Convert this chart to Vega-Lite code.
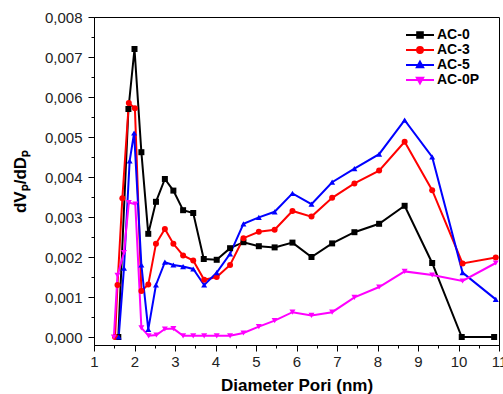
{
  "$schema": "https://vega.github.io/schema/vega-lite/v6.json",
  "width": 405,
  "height": 328,
  "autosize": {"type": "none"},
  "padding": {"left": 94, "top": 17, "right": 4, "bottom": 49},
  "background": "white",
  "config": {
    "view": {"stroke": "black", "strokeWidth": 1},
    "font": "Liberation Sans",
    "axis": {"domainColor": "black", "tickColor": "black", "grid": false, "labelFont": "Liberation Sans", "labelFontSize": 15, "labelColor": "#222222", "titleFont": "Liberation Sans", "titleFontSize": 17, "titleFontWeight": "bold", "titleColor": "black"}
  },
  "data": {
    "values": [
      {"s": "AC-0", "x": 1.6, "y": 0},
      {"s": "AC-0", "x": 1.85, "y": 0.0057},
      {"s": "AC-0", "x": 2.0, "y": 0.0072},
      {"s": "AC-0", "x": 2.17, "y": 0.00462},
      {"s": "AC-0", "x": 2.34, "y": 0.00258},
      {"s": "AC-0", "x": 2.53, "y": 0.00338},
      {"s": "AC-0", "x": 2.75, "y": 0.00395},
      {"s": "AC-0", "x": 2.96, "y": 0.00366},
      {"s": "AC-0", "x": 3.2, "y": 0.00317},
      {"s": "AC-0", "x": 3.45, "y": 0.0031},
      {"s": "AC-0", "x": 3.71, "y": 0.00195},
      {"s": "AC-0", "x": 4.03, "y": 0.00193},
      {"s": "AC-0", "x": 4.36, "y": 0.00222},
      {"s": "AC-0", "x": 4.69, "y": 0.00237},
      {"s": "AC-0", "x": 5.07, "y": 0.00227},
      {"s": "AC-0", "x": 5.46, "y": 0.00224},
      {"s": "AC-0", "x": 5.9, "y": 0.00236},
      {"s": "AC-0", "x": 6.37, "y": 0.002},
      {"s": "AC-0", "x": 6.88, "y": 0.00234},
      {"s": "AC-0", "x": 7.43, "y": 0.00262},
      {"s": "AC-0", "x": 8.04, "y": 0.00283},
      {"s": "AC-0", "x": 8.67, "y": 0.00328},
      {"s": "AC-0", "x": 9.35, "y": 0.00185},
      {"s": "AC-0", "x": 10.08, "y": 0},
      {"s": "AC-0", "x": 10.88, "y": 0},
      {"s": "AC-3", "x": 1.52, "y": 0},
      {"s": "AC-3", "x": 1.58, "y": 0.0013},
      {"s": "AC-3", "x": 1.7, "y": 0.00347},
      {"s": "AC-3", "x": 1.86, "y": 0.00585},
      {"s": "AC-3", "x": 2.01, "y": 0.00572},
      {"s": "AC-3", "x": 2.17, "y": 0.00115},
      {"s": "AC-3", "x": 2.34, "y": 0.00131},
      {"s": "AC-3", "x": 2.53, "y": 0.00233},
      {"s": "AC-3", "x": 2.75, "y": 0.0027},
      {"s": "AC-3", "x": 2.96, "y": 0.00233},
      {"s": "AC-3", "x": 3.2, "y": 0.00204},
      {"s": "AC-3", "x": 3.45, "y": 0.00191},
      {"s": "AC-3", "x": 3.72, "y": 0.00143},
      {"s": "AC-3", "x": 4.03, "y": 0.0015},
      {"s": "AC-3", "x": 4.36, "y": 0.0018},
      {"s": "AC-3", "x": 4.69, "y": 0.00247},
      {"s": "AC-3", "x": 5.07, "y": 0.00263},
      {"s": "AC-3", "x": 5.46, "y": 0.00268},
      {"s": "AC-3", "x": 5.9, "y": 0.00315},
      {"s": "AC-3", "x": 6.37, "y": 0.00301},
      {"s": "AC-3", "x": 6.88, "y": 0.00348},
      {"s": "AC-3", "x": 7.43, "y": 0.00384},
      {"s": "AC-3", "x": 8.04, "y": 0.00416},
      {"s": "AC-3", "x": 8.67, "y": 0.00488},
      {"s": "AC-3", "x": 9.35, "y": 0.00367},
      {"s": "AC-3", "x": 10.1, "y": 0.00184},
      {"s": "AC-3", "x": 10.92, "y": 0.00199},
      {"s": "AC-5", "x": 1.61, "y": 0},
      {"s": "AC-5", "x": 1.74, "y": 0.00172},
      {"s": "AC-5", "x": 1.88, "y": 0.0044},
      {"s": "AC-5", "x": 1.99, "y": 0.0051},
      {"s": "AC-5", "x": 2.17, "y": 0.0018},
      {"s": "AC-5", "x": 2.34, "y": 0.00019},
      {"s": "AC-5", "x": 2.53, "y": 0.0013},
      {"s": "AC-5", "x": 2.75, "y": 0.00187},
      {"s": "AC-5", "x": 2.96, "y": 0.0018},
      {"s": "AC-5", "x": 3.2, "y": 0.00176},
      {"s": "AC-5", "x": 3.45, "y": 0.0017},
      {"s": "AC-5", "x": 3.72, "y": 0.0013},
      {"s": "AC-5", "x": 4.03, "y": 0.00161},
      {"s": "AC-5", "x": 4.36, "y": 0.00208},
      {"s": "AC-5", "x": 4.69, "y": 0.00283},
      {"s": "AC-5", "x": 5.07, "y": 0.00299},
      {"s": "AC-5", "x": 5.46, "y": 0.00313},
      {"s": "AC-5", "x": 5.9, "y": 0.00359},
      {"s": "AC-5", "x": 6.37, "y": 0.00332},
      {"s": "AC-5", "x": 6.88, "y": 0.00387},
      {"s": "AC-5", "x": 7.43, "y": 0.00421},
      {"s": "AC-5", "x": 8.04, "y": 0.00457},
      {"s": "AC-5", "x": 8.67, "y": 0.00542},
      {"s": "AC-5", "x": 9.35, "y": 0.0045},
      {"s": "AC-5", "x": 10.1, "y": 0.00161},
      {"s": "AC-5", "x": 10.92, "y": 0.00094},
      {"s": "AC-0P", "x": 1.49, "y": 0},
      {"s": "AC-0P", "x": 1.58, "y": 0.00154},
      {"s": "AC-0P", "x": 1.74, "y": 0.00211},
      {"s": "AC-0P", "x": 1.86, "y": 0.00336},
      {"s": "AC-0P", "x": 2.02, "y": 0.00332},
      {"s": "AC-0P", "x": 2.17, "y": 0.00023},
      {"s": "AC-0P", "x": 2.35, "y": 0.00003},
      {"s": "AC-0P", "x": 2.54, "y": 0.00005},
      {"s": "AC-0P", "x": 2.75, "y": 0.0002},
      {"s": "AC-0P", "x": 2.96, "y": 0.00021},
      {"s": "AC-0P", "x": 3.2, "y": 0.00003},
      {"s": "AC-0P", "x": 3.45, "y": 0.00003},
      {"s": "AC-0P", "x": 3.72, "y": 0.00003},
      {"s": "AC-0P", "x": 4.03, "y": 0.00003},
      {"s": "AC-0P", "x": 4.36, "y": 0.00003},
      {"s": "AC-0P", "x": 4.69, "y": 0.0001},
      {"s": "AC-0P", "x": 5.07, "y": 0.00026},
      {"s": "AC-0P", "x": 5.46, "y": 0.00041},
      {"s": "AC-0P", "x": 5.9, "y": 0.00062},
      {"s": "AC-0P", "x": 6.37, "y": 0.00054},
      {"s": "AC-0P", "x": 6.88, "y": 0.00062},
      {"s": "AC-0P", "x": 7.43, "y": 0.00099},
      {"s": "AC-0P", "x": 8.04, "y": 0.00125},
      {"s": "AC-0P", "x": 8.67, "y": 0.00164},
      {"s": "AC-0P", "x": 9.35, "y": 0.00155},
      {"s": "AC-0P", "x": 10.1, "y": 0.0014},
      {"s": "AC-0P", "x": 10.92, "y": 0.00185}
    ]
  },
  "encoding": {
    "x": {
      "field": "x", "type": "quantitative",
      "scale": {"domain": [1, 11], "nice": false, "zero": false},
      "axis": {
        "title": "Diameter Pori (nm)",
        "values": [1, 1.5, 2, 2.5, 3, 3.5, 4, 4.5, 5, 5.5, 6, 6.5, 7, 7.5, 8, 8.5, 9, 9.5, 10, 10.5, 11],
        "labelExpr": "datum.value % 1 == 0 ? format(datum.value, 'd') : ''",
        "tickSize": {"condition": {"test": "datum.value % 1 != 0", "value": 3}, "value": 6},
        "labelFlush": false, "labelOverlap": false, "labelPadding": 3, "titlePadding": 8
      }
    },
    "y": {
      "field": "y", "type": "quantitative",
      "scale": {"domain": [-0.0002, 0.008], "nice": false, "zero": false},
      "axis": {
        "title": "dVₚ/dDₚ",
        "values": [0, 0.0005, 0.001, 0.0015, 0.002, 0.0025, 0.003, 0.0035, 0.004, 0.0045, 0.005, 0.0055, 0.006, 0.0065, 0.007, 0.0075, 0.008],
        "labelExpr": "round(datum.value * 10000) % 10 == 0 ? replace(format(datum.value, '.3f'), '.', ',') : ''",
        "tickSize": {"condition": {"test": "round(datum.value * 10000) % 10 != 0", "value": 3}, "value": 6},
        "labelFlush": false, "labelOverlap": false, "labelPadding": 6, "titlePadding": 15
      }
    }
  },
  "resolve": {"legend": {"color": "independent", "shape": "independent"}},
  "layer": [
    {
      "mark": {"type": "line", "strokeWidth": 2},
      "encoding": {
        "order": {"field": "x", "type": "quantitative"},
        "color": {
          "field": "s", "type": "nominal",
          "scale": {"domain": ["AC-0", "AC-3", "AC-5", "AC-0P"], "range": ["#000000", "#ff0000", "#0000ff", "#ff00ff"]},
          "legend": {
            "orient": "none", "legendX": 318, "legendY": 10, "title": null,
            "padding": 0, "rowPadding": 0, "symbolSize": 196, "symbolStrokeWidth": 2,
            "labelOffset": 9, "labelFontSize": 14, "labelFontWeight": "bold", "labelColor": "black", "labelFont": "Liberation Sans",
            "encode": {
              "symbols": {
                "update": {
                  "shape": {"signal": "datum.value === 'AC-0' ? 'M-2,0H2M-0.4,-0.4H0.4V0.4H-0.4Z' : datum.value === 'AC-3' ? 'M-2,0H2M-0.42,0A0.42,0.42,0,1,1,0.42,0A0.42,0.42,0,1,1,-0.42,0Z' : datum.value === 'AC-5' ? 'M-2,0H2M0,-0.48L0.45,0.32H-0.45Z' : 'M-2,0H2M0,0.48L0.45,-0.32H-0.45Z'"},
                  "fill": {"signal": "scale('color', datum.value)"},
                  "stroke": {"signal": "scale('color', datum.value)"},
                  "strokeWidth": {"value": 2},
                  "opacity": {"value": 1}
                }
              }
            }
          }
        }
      }
    },
    {
      "mark": {"type": "point", "filled": true, "opacity": 1, "size": 36},
      "encoding": {
        "color": {
          "field": "s", "type": "nominal",
          "scale": {"domain": ["AC-0", "AC-3", "AC-5", "AC-0P"], "range": ["#000000", "#ff0000", "#0000ff", "#ff00ff"]},
          "legend": null
        },
        "shape": {
          "field": "s", "type": "nominal",
          "scale": {"domain": ["AC-0", "AC-3", "AC-5", "AC-0P"], "range": ["square", "circle", "triangle-up", "triangle-down"]},
          "legend": null
        }
      }
    }
  ]
}
